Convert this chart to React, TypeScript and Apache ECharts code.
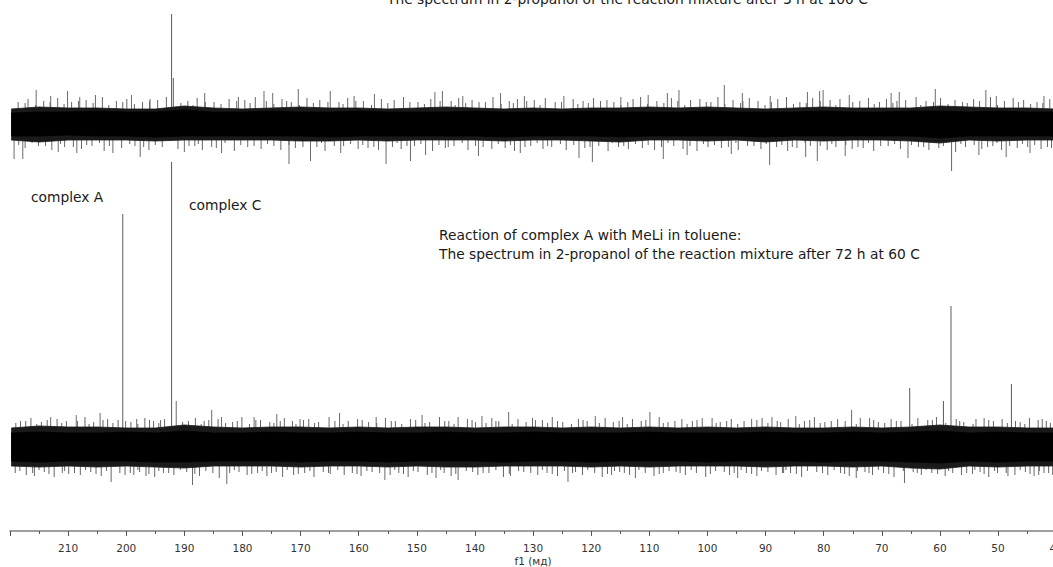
import React, { useEffect, useRef } from "react";
import * as echarts from "echarts";

// chemical shift (ppm) sample points for the noise envelopes
const ENV_PPM = [219.8, 215, 210, 205, 200, 195, 190, 185, 180, 175, 170, 165, 160, 155, 150, 145, 140, 135, 130, 125, 120, 115, 110, 105, 100, 95, 90, 85, 80, 75, 70, 65, 60, 55, 50, 45, 40, 35];

// top spectrum (3 h at 100 C): noise envelopes
const TOP_CORE_UP = [11, 12, 12, 13, 12, 12, 14, 12, 12, 13, 12, 12, 13, 12, 12, 12, 13, 12, 12, 12, 13, 12, 12, 12, 13, 12, 12, 12, 13, 12, 12, 13, 13, 12, 13, 12, 12, 12];
const TOP_CORE_DN = [-12, -12, -11, -12, -12, -13, -12, -12, -12, -12, -12, -13, -12, -12, -12, -12, -12, -13, -12, -12, -12, -13, -12, -12, -12, -12, -13, -12, -12, -12, -12, -12, -14, -12, -12, -12, -12, -12];
const TOP_BODY_UP = [15, 17, 16, 16, 15, 15, 18, 16, 15, 16, 17, 16, 16, 15, 16, 17, 16, 15, 16, 15, 16, 16, 17, 16, 17, 16, 15, 16, 17, 16, 16, 16, 18, 17, 16, 16, 15, 16];
const TOP_BODY_DN = [-16, -18, -16, -16, -16, -17, -16, -16, -16, -16, -17, -17, -16, -17, -16, -16, -16, -17, -16, -16, -17, -18, -16, -16, -17, -16, -18, -16, -17, -16, -16, -17, -19, -16, -17, -16, -16, -16];

// bottom spectrum (72 h at 60 C): noise envelopes
const BOT_CORE_UP = [14, 15, 14, 14, 15, 14, 16, 14, 14, 15, 14, 14, 15, 14, 14, 15, 14, 14, 15, 14, 14, 14, 15, 14, 14, 14, 15, 14, 14, 15, 14, 15, 16, 14, 15, 14, 14, 14];
const BOT_CORE_DN = [-14, -15, -14, -14, -14, -15, -15, -14, -14, -14, -15, -14, -14, -15, -14, -14, -14, -15, -14, -14, -15, -14, -14, -14, -15, -14, -14, -14, -15, -14, -14, -15, -16, -14, -15, -14, -14, -14];
const BOT_BODY_UP = [19, 21, 20, 20, 19, 19, 22, 20, 19, 20, 20, 19, 20, 19, 20, 20, 19, 20, 20, 19, 20, 19, 20, 19, 20, 19, 20, 19, 19, 20, 19, 20, 22, 20, 20, 19, 19, 20];
const BOT_BODY_DN = [-19, -20, -19, -20, -19, -20, -21, -19, -19, -19, -20, -19, -19, -20, -19, -20, -20, -19, -19, -19, -20, -19, -20, -19, -19, -19, -20, -19, -19, -20, -19, -21, -22, -19, -20, -19, -19, -19];

// prominent noise spikes [ppm, intensity]
const TOP_SPIKES: [number, number][] = [
  [215.5, 34], [213.0, 28], [210.1, 33], [208.0, 27], [205.3, 29], [199.1, 29], [195.9, 25], [186.5, 31], [180.7, 27],
  [176.3, 33], [174.8, 31], [170.4, 35], [164.9, 33], [160.8, 28], [157.3, 30], [146.9, 32], [145.6, 33], [142.1, 28],
  [135.6, 31], [131.5, 28], [124.7, 28], [114.9, 27], [110.2, 29], [106.9, 31], [104.9, 34], [97.1, 39], [94.0, 31],
  [89.2, 28], [82.8, 32], [80.7, 33], [80.1, 34], [75.6, 29], [68.4, 31], [67.0, 32], [60.8, 35], [52.1, 34],
  [50.3, 28], [42.1, 28],
  [219.3, -35], [217.8, -35], [211.7, -28], [208.5, -29], [202.3, -29], [197.6, -33], [190.0, -28], [183.6, -29],
  [172.0, -40], [168.3, -37], [163.1, -29], [155.3, -40], [151.1, -37], [148.5, -31], [139.4, -32], [132.2, -29],
  [122.1, -34], [119.8, -38], [107.6, -35], [103.5, -31], [95.9, -30], [89.3, -41], [83.1, -33], [81.1, -37],
  [76.3, -32], [65.5, -34], [58.0, -47], [53.3, -31], [48.6, -33], [44.5, -29],
];
const BOT_SPIKES: [number, number][] = [
  [213.0, 30], [208.6, 32], [204.5, 34], [198.2, 28], [194.1, 27], [191.4, 46], [185.3, 37], [183.6, 30], [178.0, 30],
  [174.1, 33], [170.1, 28], [163.3, 34], [157.0, 30], [149.1, 32], [142.9, 30], [138.8, 31], [134.2, 35], [130.1, 29],
  [119.3, 31], [114.6, 30], [109.9, 35], [100.9, 29], [92.4, 28], [88.9, 30], [84.8, 31], [75.2, 37], [73.7, 29],
  [53.8, 28], [42.4, 28],
  [215.8, -29], [209.9, -27], [202.6, -35], [198.7, -28], [196.6, -29], [188.6, -38], [182.7, -37], [173.1, -30],
  [164.9, -27], [155.5, -33], [146.7, -31], [142.9, -33], [133.9, -29], [124.0, -35], [116.5, -28], [112.4, -31],
  [107.6, -26], [94.8, -31], [86.9, -26], [74.4, -31], [66.1, -36], [54.4, -27], [48.3, -29], [43.0, -28],
];

// smaller noise excursions at the edges of the noise band [ppm, intensity]
const TOP_FUZZ: [number, number][] = [
  [218.6, 22], [216.9, 25], [214.2, 23], [211.8, 26], [209.4, 22], [206.9, 24], [204.1, 27], [201.7, 23], [199.9, 25], [197.2, 22],
  [194.6, 24], [193.1, 27], [189.4, 23], [187.8, 26], [184.9, 22], [182.3, 25], [179.6, 24], [177.8, 27], [175.9, 23], [173.2, 25],
  [171.6, 22], [168.9, 26], [166.7, 24], [163.4, 22], [161.9, 26], [159.2, 23], [156.1, 25], [153.9, 24], [152.3, 27], [149.8, 22],
  [147.6, 25], [144.1, 23], [142.8, 26], [140.5, 24], [138.2, 22], [136.9, 27], [134.1, 23], [132.7, 25], [129.8, 24], [127.9, 26],
  [126.2, 22], [123.1, 25], [121.4, 23], [119.6, 26], [117.3, 24], [116.1, 22], [112.8, 25], [111.5, 27], [108.7, 23], [106.2, 26],
  [102.9, 24], [101.3, 25], [99.4, 22], [98.2, 27], [95.6, 24], [92.8, 26], [91.3, 23], [87.9, 25], [86.4, 27], [84.1, 22],
  [81.9, 26], [78.9, 24], [77.2, 25], [73.8, 23], [72.3, 26], [70.4, 22], [69.2, 25], [65.9, 24], [64.1, 27], [62.4, 23],
  [59.9, 26], [57.4, 24], [56.1, 22], [54.2, 25], [51.3, 27], [48.9, 23], [47.4, 26], [45.6, 24], [43.3, 22], [41.1, 25],
  [217.4, -24], [215.1, -22], [212.8, -26], [210.6, -23], [207.7, -25], [205.9, -22], [203.8, -27], [200.8, -24], [198.5, -22], [196.1, -26],
  [193.8, -23], [191.1, -25], [188.2, -22], [186.9, -26], [184.5, -24], [181.4, -27], [179.1, -23], [176.8, -25], [174.6, -22], [173.4, -26],
  [170.9, -24], [167.2, -23], [165.8, -27], [162.6, -22], [160.1, -25], [158.4, -24], [156.6, -26], [154.2, -23], [152.7, -25], [150.4, -22],
  [147.3, -27], [145.1, -24], [143.6, -22], [141.2, -26], [138.6, -23], [137.1, -25], [134.8, -24], [133.2, -27], [130.4, -22], [128.3, -25],
  [126.8, -23], [124.3, -26], [121.1, -24], [118.7, -22], [117.1, -27], [115.3, -23], [113.6, -25], [111.2, -24], [109.1, -26], [105.8, -22],
  [104.2, -25], [101.8, -27], [99.9, -23], [97.6, -24], [94.7, -26], [93.1, -22], [90.8, -25], [88.1, -23], [86.2, -27], [84.6, -24],
  [82.3, -22], [79.4, -26], [77.9, -23], [75.1, -25], [73.2, -24], [71.4, -27], [68.9, -22], [66.8, -25], [63.7, -23], [61.9, -26],
  [60.2, -24], [57.3, -28], [55.6, -23], [52.8, -25], [50.9, -22], [49.4, -26], [46.7, -24], [44.9, -23], [42.6, -25], [40.8, -24],
  [217.4, 21], [215.6, 19], [213.1, 22], [210.7, 20], [208.2, 23], [205.7, 21], [203.0, 19], [200.6, 22], [198.6, 20], [196.0, 23],
  [190.6, 21], [188.5, 19], [186.4, 22], [183.7, 20], [181.0, 23], [178.7, 21], [174.6, 20], [172.4, 23], [170.2, 19], [167.8, 21],
  [165.3, 22], [162.7, 20], [160.5, 23], [157.8, 19], [155.0, 21], [151.2, 22], [148.7, 20], [146.0, 23], [143.4, 19], [141.6, 21],
  [139.3, 22], [135.5, 20], [133.4, 21], [131.1, 23], [128.8, 19], [125.1, 22], [122.3, 20], [120.5, 21], [118.4, 23], [114.9, 19],
  [113.7, 22], [110.3, 20], [107.5, 21], [105.1, 23], [103.9, 19], [100.2, 22], [97.0, 20], [94.3, 21], [93.9, 23], [90.1, 19],
  [89.0, 22], [85.2, 20], [83.0, 21], [80.6, 23], [77.9, 19], [75.0, 22], [71.3, 20], [68.1, 21], [67.4, 23], [63.3, 19],
  [61.1, 22], [58.6, 20], [55.3, 21], [53.2, 23], [50.1, 19], [46.5, 22], [44.4, 20], [42.3, 21], [40.0, 23],
  [218.5, -21], [216.2, -19], [213.9, -22], [211.3, -20], [209.1, -23], [206.8, -21], [204.6, -19], [202.9, -22], [199.4, -20], [197.0, -23],
  [195.0, -21], [189.2, -22], [187.6, -20], [185.3, -23], [183.0, -19], [180.3, -21], [178.0, -22], [175.7, -20], [172.0, -21], [169.6, -23],
  [166.4, -19], [164.2, -22], [161.4, -20], [159.3, -21], [157.4, -23], [153.4, -19], [151.7, -22], [149.3, -20], [146.2, -21], [144.6, -23],
  [142.2, -19], [139.9, -22], [136.0, -20], [133.9, -21], [131.4, -23], [129.3, -19], [127.5, -22], [125.3, -20], [123.0, -21], [120.2, -23],
  [116.4, -19], [114.4, -22], [112.4, -20], [110.2, -21], [107.9, -23], [106.8, -19], [103.0, -22], [100.7, -20], [98.8, -21], [96.4, -23],
  [95.1, -19], [92.0, -22], [89.9, -20], [87.2, -21], [85.4, -23], [83.2, -19], [80.6, -22], [78.6, -20], [76.2, -21], [74.1, -23],
  [72.3, -19], [70.2, -22], [67.8, -20], [64.9, -21], [62.8, -23], [61.0, -19], [59.4, -22], [56.4, -20], [54.1, -21], [51.8, -23],
  [50.2, -19], [48.0, -22], [45.8, -20], [43.7, -21], [41.5, -23],
];
const BOT_FUZZ: [number, number][] = [
  [218.2, 26], [216.4, 29], [214.6, 25], [211.9, 28], [210.3, 26], [207.1, 30], [205.6, 25], [203.2, 28], [201.4, 27], [199.2, 25],
  [196.8, 29], [195.3, 26], [193.4, 28], [190.3, 25], [188.1, 29], [186.6, 26], [184.2, 28], [181.7, 25], [180.1, 30], [176.9, 27],
  [175.3, 25], [172.8, 29], [171.4, 26], [168.6, 28], [166.9, 25], [165.1, 30], [161.8, 26], [160.2, 28], [158.3, 25], [155.4, 29],
  [153.7, 26], [151.1, 28], [147.8, 25], [146.1, 30], [144.5, 26], [141.3, 28], [139.9, 25], [137.1, 29], [135.9, 26], [132.6, 28],
  [131.2, 25], [128.4, 27], [126.7, 30], [124.9, 25], [122.2, 28], [120.7, 26], [117.6, 29], [116.2, 25], [112.9, 28], [111.4, 26],
  [108.3, 30], [106.8, 25], [104.4, 28], [102.6, 26], [99.2, 29], [97.8, 25], [95.9, 28], [93.7, 26], [90.6, 29], [87.4, 25],
  [86.1, 28], [83.3, 26], [81.6, 30], [79.8, 25], [77.6, 28], [76.3, 26], [72.1, 29], [70.6, 25], [68.4, 28], [66.7, 26],
  [63.8, 29], [62.1, 27], [60.6, 30], [57.2, 28], [55.9, 25], [52.4, 29], [50.8, 26], [49.3, 28], [46.2, 25], [44.6, 29],
  [41.7, 26], [40.3, 28],
  [219.1, -26], [217.2, -28], [214.1, -25], [212.4, -30], [211.0, -26], [207.9, -28], [206.1, -25], [204.3, -29], [201.1, -26], [200.2, -28],
  [197.7, -25], [195.1, -30], [193.6, -26], [191.8, -28], [189.6, -25], [187.4, -29], [185.1, -26], [184.0, -31], [180.6, -25], [179.2, -28],
  [177.4, -26], [175.8, -29], [174.2, -25], [171.2, -28], [169.3, -26], [167.7, -30], [166.1, -25], [162.5, -28], [161.1, -26], [159.6, -29],
  [157.7, -25], [154.6, -28], [153.1, -26], [151.5, -30], [149.8, -25], [148.2, -28], [145.3, -26], [144.1, -29], [140.4, -25], [139.5, -28],
  [137.6, -26], [135.1, -30], [131.6, -25], [129.2, -28], [127.6, -26], [125.8, -29], [122.7, -25], [121.5, -28], [119.4, -26], [118.1, -30],
  [115.1, -25], [113.4, -28], [110.7, -26], [109.2, -29], [105.4, -25], [103.8, -28], [101.9, -26], [100.3, -30], [97.1, -25], [96.2, -28],
  [93.3, -26], [91.5, -29], [89.6, -25], [88.2, -28], [85.7, -26], [83.8, -30], [81.2, -25], [79.3, -28], [77.1, -26], [75.6, -29],
  [72.9, -25], [71.6, -28], [69.7, -26], [67.9, -30], [64.6, -25], [63.2, -28], [61.4, -26], [59.1, -29], [57.8, -26], [56.3, -28],
  [53.1, -25], [51.6, -30], [50.1, -26], [47.1, -28], [45.3, -25], [43.8, -29], [42.1, -26], [40.6, -28],
  [219.0, 24], [217.3, 26], [215.4, 23], [213.6, 27], [211.1, 24], [208.4, 26], [206.4, 23], [204.0, 27], [202.3, 24], [200.1, 26],
  [198.0, 23], [196.0, 27], [194.4, 24], [189.3, 26], [187.1, 23], [185.8, 27], [182.9, 24], [180.9, 26], [178.8, 23], [177.7, 27],
  [174.6, 24], [173.5, 26], [170.8, 23], [169.5, 27], [167.6, 24], [164.1, 26], [162.7, 23], [159.4, 27], [156.9, 24], [154.4, 26],
  [152.6, 23], [150.2, 27], [148.6, 24], [145.2, 26], [143.6, 23], [140.5, 27], [138.1, 24], [136.4, 26], [133.6, 23], [129.6, 27],
  [127.5, 24], [125.8, 26], [123.4, 23], [121.4, 27], [118.6, 24], [115.2, 26], [113.8, 23], [110.6, 27], [107.6, 24], [105.6, 26],
  [103.5, 23], [101.8, 27], [98.5, 24], [96.7, 26], [94.8, 23], [91.5, 27], [89.6, 24], [88.0, 26], [84.2, 23], [82.4, 27],
  [80.6, 24], [78.7, 26], [74.4, 23], [71.4, 27], [69.5, 24], [67.5, 26], [64.8, 23], [61.3, 27], [59.0, 24], [56.6, 26],
  [54.3, 23], [51.6, 27], [48.4, 24], [47.0, 26], [45.4, 23], [43.1, 27], [41.0, 24],
  [218.3, -24], [216.1, -26], [215.0, -23], [213.3, -27], [210.6, -24], [208.9, -26], [207.0, -23], [205.2, -27], [203.4, -24], [199.3, -26],
  [198.0, -23], [196.1, -27], [194.4, -24], [192.7, -26], [190.7, -23], [188.2, -27], [186.3, -24], [182.2, -26], [181.4, -23], [178.4, -27],
  [176.6, -24], [175.0, -26], [172.3, -23], [170.4, -27], [168.4, -24], [165.2, -26], [163.6, -23], [160.3, -27], [158.6, -24], [156.4, -26],
  [153.8, -23], [152.3, -27], [150.6, -24], [147.4, -26], [145.9, -23], [143.3, -27], [141.5, -24], [138.6, -26], [136.4, -23], [134.1, -27],
  [132.5, -24], [130.4, -26], [128.4, -23], [126.7, -27], [124.6, -24], [123.2, -26], [120.6, -23], [117.2, -27], [116.0, -24], [114.3, -26],
  [111.8, -23], [108.3, -27], [106.6, -24], [104.7, -26], [102.8, -23], [99.5, -27], [98.6, -24], [95.4, -26], [94.2, -23], [92.4, -27],
  [90.7, -24], [87.1, -26], [86.5, -23], [84.7, -27], [82.8, -24], [80.2, -26], [78.2, -23], [76.4, -27], [74.2, -24], [72.2, -26],
  [70.6, -23], [68.8, -27], [66.3, -24], [63.9, -26], [62.4, -23], [60.4, -27], [58.5, -24], [55.4, -26], [54.0, -23], [52.4, -27],
  [50.6, -24], [48.6, -26], [46.2, -23], [44.5, -27], [42.9, -24], [41.3, -26],
];

// signals [ppm, intensity]
const TOP_PEAKS: [number, number][] = [[192.2, 110], [191.9, 46]];
const BOT_PEAKS: [number, number][] = [[200.6, 233], [192.2, 285], [65.2, 59], [59.4, 46], [58.1, 141], [47.7, 63]];

const AXIS_MIN = 30;
const AXIS_MAX = 220;

const TEXT_FONT = "'DejaVu Sans', Verdana, sans-serif";

function envelope(vals: number[]) {
  return ENV_PPM.map((p, i) => [p, vals[i]]);
}

function bandSeries(vals: number[], color: string, axis: number) {
  return {
    type: "line",
    xAxisIndex: axis,
    yAxisIndex: axis,
    data: envelope(vals),
    symbol: "none",
    silent: true,
    lineStyle: { color, width: 0.8 },
    areaStyle: { color, opacity: 1 },
  };
}

function stickSeries(fuzz: [number, number][], spikes: [number, number][], peaks: [number, number][], axis: number) {
  const data = [
    ...fuzz.map((s) => ({ value: s, itemStyle: { color: "#666666" } })),
    ...spikes.map((s) => ({ value: s, itemStyle: { color: "#6a6a6a" } })),
    ...peaks.map((s) => ({ value: s, itemStyle: { color: "#5a5a5a" } })),
  ];
  return {
    type: "bar",
    xAxisIndex: axis,
    yAxisIndex: axis,
    barWidth: 1,
    silent: true,
    data,
  };
}

function label(text: string, x: number, y: number) {
  return {
    type: "text",
    x,
    y,
    style: { text, font: `13.8px ${TEXT_FONT}`, fill: "#1a1a1a", align: "left", verticalAlign: "middle" },
  };
}

export default function App() {
  const ref = useRef<HTMLDivElement>(null);
  useEffect(() => {
    if (!ref.current) return;
    const chart = echarts.init(ref.current, undefined, { renderer: "svg" });
    const option = {
      animation: false,
      backgroundColor: "#ffffff",
      grid: [
        { left: 10, right: 5.7, top: 0, height: 200 },
        { left: 10, right: 5.7, top: 131, height: 400 },
      ],
      xAxis: [
        { type: "value", gridIndex: 0, min: AXIS_MIN, max: AXIS_MAX, inverse: true, show: false },
        {
          type: "value",
          gridIndex: 1,
          min: AXIS_MIN,
          max: AXIS_MAX,
          interval: 10,
          inverse: true,
          axisLine: { onZero: false, lineStyle: { color: "#808080", width: 1.5 } },
          axisTick: { length: 5, lineStyle: { color: "#555" } },
          minorTick: { show: true, splitNumber: 2, length: 3, lineStyle: { color: "#555" } },
          axisLabel: {
            color: "#333",
            fontSize: 10.5,
            margin: 11,
            showMaxLabel: false,
            showMinLabel: false,
            fontFamily: TEXT_FONT,
          },
          splitLine: { show: false },
          minorSplitLine: { show: false },
        },
      ],
      yAxis: [
        { type: "value", gridIndex: 0, min: -76, max: 124, show: false },
        { type: "value", gridIndex: 1, min: -84, max: 316, show: false },
      ],
      series: [
        stickSeries(TOP_FUZZ, TOP_SPIKES, TOP_PEAKS, 0),
        bandSeries(TOP_BODY_UP, "#1a1a1a", 0),
        bandSeries(TOP_BODY_DN, "#1a1a1a", 0),
        bandSeries(TOP_CORE_UP, "#000000", 0),
        bandSeries(TOP_CORE_DN, "#000000", 0),
        stickSeries(BOT_FUZZ, BOT_SPIKES, BOT_PEAKS, 1),
        bandSeries(BOT_BODY_UP, "#1a1a1a", 1),
        bandSeries(BOT_BODY_DN, "#1a1a1a", 1),
        bandSeries(BOT_CORE_UP, "#000000", 1),
        bandSeries(BOT_CORE_DN, "#000000", 1),
      ],
      graphic: [
        label("The spectrum in 2-propanol of the reaction mixture after 3 h at 100 C", 387, -1),
        label("complex A", 31, 197),
        label("complex C", 189, 205),
        label("Reaction of complex A with MeLi in toluene:", 439, 235),
        label("The spectrum in 2-propanol of the reaction mixture after 72 h at 60 C", 439, 254),
        {
          type: "text",
          x: 533,
          y: 561,
          style: { text: "f1 (мд)", font: `10.5px ${TEXT_FONT}`, fill: "#333", align: "center", verticalAlign: "middle" },
        },
      ],
    };
    chart.setOption(option as any);
    return () => chart.dispose();
  }, []);
  return (
    <div style={{ position: "fixed", left: 0, top: 0, width: 1053, height: 567, overflow: "hidden", background: "#fff" }}>
      <div ref={ref} style={{ width: 1120, height: 567 }} />
    </div>
  );
}
